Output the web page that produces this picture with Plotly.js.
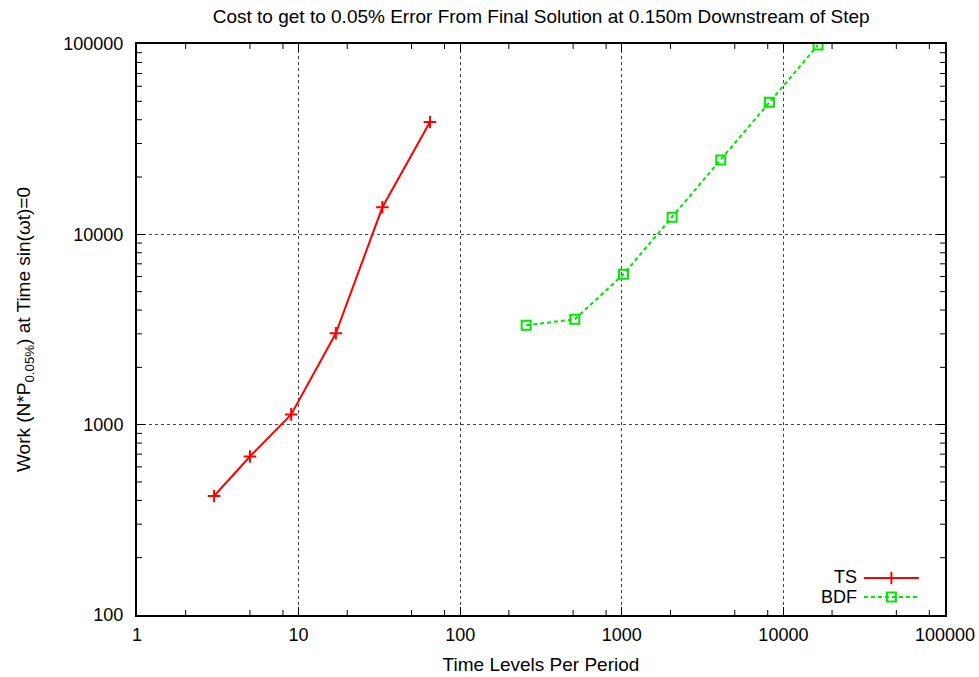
<!DOCTYPE html>
<html>
<head>
<meta charset="utf-8">
<script src="https://cdn.plot.ly/plotly-3.0.1.min.js"></script>
<style>
html,body{margin:0;padding:0;background:#fff;}
#chart{width:979px;height:677px;}
.legend .legendtext{display:none;}
</style>
</head>
<body>
<div id="chart"></div>
<script>
// Data
const tsName = "TS";
const tsX = [3, 5, 9, 17, 33, 65];
const tsY = [422, 680, 1132, 3020, 13870, 38900];

const bdfName = "BDF";
const bdfX = [256, 512, 1024, 2048, 4096, 8192, 16384];
const bdfY = [3330, 3580, 6170, 12290, 24570, 49400, 98800];

const xTickVals = [1, 10, 100, 1000, 10000, 100000];
const xTickText = ["1", "10", "100", "1000", "10000", "100000"];
const yTickVals = [100, 1000, 10000, 100000];
const yTickText = ["100", "1000", "10000", "100000"];

// minor tick positions (as visible in the reference)
const xMinorDigits = [2, 5, 8];
const yMinorDigits = [2, 3, 4, 5, 6, 7, 8, 9];
function minorVals(majors, digits) {
  const out = [];
  for (let i = 0; i < majors.length - 1; i++) {
    for (const d of digits) out.push(majors[i] * d);
  }
  return out;
}
const xMinor = minorVals(xTickVals, xMinorDigits);
const yMinor = minorVals(yTickVals, yMinorDigits);

const FONT = "Liberation Sans, Arial, Helvetica, sans-serif";
const PLOT_W = 979 - 137 - 34, PLOT_H = 677 - 44 - 62, MINOR_LEN = 5;

// minor ticks as short lines on all four sides
const shapes = [];
for (const v of xMinor) {
  shapes.push({type: "line", layer: "above", xref: "x", yref: "paper", x0: v, x1: v, y0: 0, y1: MINOR_LEN / PLOT_H, line: {color: "#000", width: 1}});
  shapes.push({type: "line", layer: "above", xref: "x", yref: "paper", x0: v, x1: v, y0: 1, y1: 1 - MINOR_LEN / PLOT_H, line: {color: "#000", width: 1}});
}
for (const v of yMinor) {
  shapes.push({type: "line", layer: "above", xref: "paper", yref: "y", y0: v, y1: v, x0: 0, x1: MINOR_LEN / PLOT_W, line: {color: "#000", width: 1}});
  shapes.push({type: "line", layer: "above", xref: "paper", yref: "y", y0: v, y1: v, x0: 1, x1: 1 - MINOR_LEN / PLOT_W, line: {color: "#000", width: 1}});
}

const traces = [
  {
    x: tsX, y: tsY, type: "scatter", mode: "lines+markers", name: " ",
    line: {color: "#ff0000", width: 2},
    marker: {symbol: "cross-thin", size: 9, line: {color: "#ff0000", width: 2}, color: "#ff0000"}
  },
  {
    x: bdfX, y: bdfY, type: "scatter", mode: "lines+markers", name: " ",
    line: {color: "#00e600", width: 2, dash: "4px,3px"},
    marker: {symbol: "square-open", size: 9, color: "#00e600", line: {color: "#00e600", width: 2}}
  }
];

function axisCommon() {
  return {
    type: "log",
    showline: true, linecolor: "#000", linewidth: 2, mirror: "allticks",
    ticks: "inside", ticklen: 8, tickwidth: 1, tickcolor: "#000",
    showgrid: true, gridcolor: "#444", griddash: "dot", gridwidth: 1,
    zeroline: false,
    tickfont: {family: FONT, size: 18, color: "#000"}
  };
}

const layout = {
  width: 979, height: 677,
  margin: {l: 137, r: 34, t: 44, b: 62},
  paper_bgcolor: "#fff", plot_bgcolor: "#fff",
  font: {family: FONT, color: "#000"},
  showlegend: true,
  legend: {x: 0.985, xanchor: "right", y: 0.006, yanchor: "bottom", bgcolor: "rgba(0,0,0,0)",
           font: {family: FONT, size: 12}, tracegroupgap: 0, itemwidth: 55},
  title: {text: "Cost to get to 0.05% Error From Final Solution at 0.150m Downstream of Step",
          font: {family: FONT, size: 19, color: "#000"}, x: 0.5528, xref: "container", xanchor: "center",
          y: 1 - 16/677, yref: "container", yanchor: "middle"},
  xaxis: Object.assign(axisCommon(), {
    range: [0, 5], tickmode: "array", tickvals: xTickVals, ticktext: xTickText, ticklabelstandoff: 2,
    title: {text: "Time Levels Per Period", font: {family: FONT, size: 19, color: "#000"}, standoff: 14}
  }),
  yaxis: Object.assign(axisCommon(), {
    range: [2, 5], tickmode: "array", tickvals: yTickVals, ticktext: yTickText, ticklabelstandoff: 8,
    title: {text: "Work (N*P<sub>0.05%</sub>) at Time sin(\u03c9t)=0", font: {family: FONT, size: 19, color: "#000"}, standoff: 28}
  }),
  shapes: shapes,
  annotations: [
    {text: tsName, xref: "paper", yref: "paper", x: 0.893, y: 0.0665, xanchor: "right", yanchor: "middle",
     showarrow: false, font: {family: FONT, size: 18, color: "#000"}},
    {text: bdfName, xref: "paper", yref: "paper", x: 0.893, y: 0.0315, xanchor: "right", yanchor: "middle",
     showarrow: false, font: {family: FONT, size: 18, color: "#000"}}
  ]
};

Plotly.newPlot("chart", traces, layout, {displayModeBar: false, staticPlot: true});
</script>
</body>
</html>
